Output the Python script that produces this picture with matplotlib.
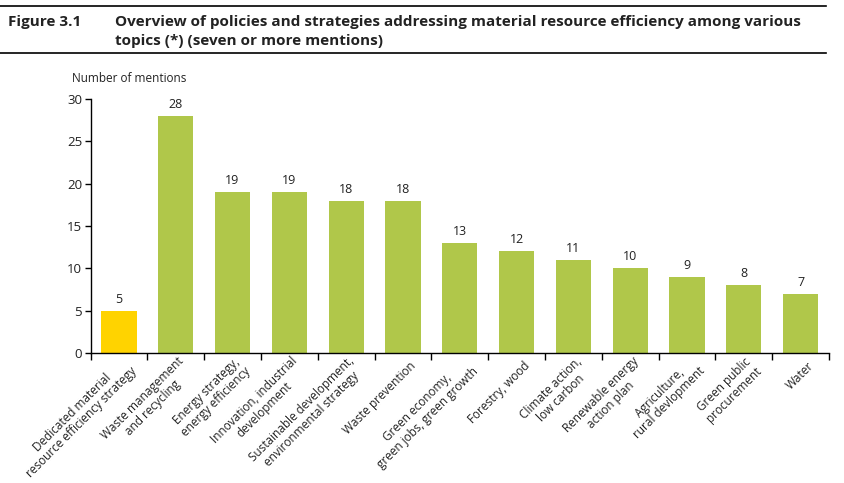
import matplotlib.pyplot as plt
import numpy as np

# Dati
categories = [
    "Dedicated material\nresource efficiency strategy",
    "Waste management\nand recycling",
    "Energy strategy,\nenergy efficiency",
    "Innovation, industrial\ndevelopment",
    "Sustainable development,\nenvironmental strategy",
    "Waste prevention",
    "Green economy,\ngreen jobs, green growth",
    "Forestry, wood",
    "Climate action,\nlow carbon",
    "Renewable energy\naction plan",
    "Agriculture,\nrural devlopment",
    "Green public\nprocurement",
    "Water",
]
mentions = [5, 28, 19, 19, 18, 18, 13, 12, 11, 10, 9, 8, 7]
y_ticks = [0, 5, 10, 15, 20, 25, 30]

YELLOW = "#FFD300"
GREEN = "#B0C74A"
TEXT = "#222222"

plt.rcParams["font.family"] = ["Open Sans", "DejaVu Sans"]

fig = plt.figure(figsize=(8.44, 4.83), dpi=100)
W, H = 844, 483

# Intestazione con le due linee orizzontali
fig.add_artist(plt.Line2D([0, 826 / W], [1 - 6 / H, 1 - 6 / H], color="black", lw=1.2))
fig.add_artist(plt.Line2D([0, 826 / W], [1 - 53 / H, 1 - 53 / H], color="black", lw=1.2))
fig.text(8 / W, 1 - 26 / H, "Figure 3.1", fontsize=11, fontweight="bold", color=TEXT, va="baseline")
fig.text(115 / W, 1 - 26 / H,
         "Overview of policies and strategies addressing material resource efficiency among various",
         fontsize=11, fontweight="bold", color=TEXT, va="baseline")
fig.text(115 / W, 1 - 45 / H, "topics (*) (seven or more mentions)",
         fontsize=11, fontweight="bold", color=TEXT, va="baseline")

ax = fig.add_axes([90.5 / W, 1 - 353 / H, 738.5 / W, 254 / H])

x = np.arange(len(categories))
colors = [YELLOW] + [GREEN] * (len(categories) - 1)
bars = ax.bar(x, mentions, width=0.62, color=colors, zorder=2)
for bar, val in zip(bars, mentions):
    ax.text(bar.get_x() + bar.get_width() / 2, val + 0.6, str(val),
            ha="center", va="bottom", fontsize=9, color=TEXT)

ax.set_xlim(-0.5, len(categories) - 0.5)
ax.set_ylim(0, 30)
ax.set_yticks(y_ticks)
ax.tick_params(axis="y", labelsize=9.5, labelcolor=TEXT, length=4, width=1, pad=2)

# tick tra le barre, etichette ruotate al centro
ax.set_xticks(np.arange(len(categories) + 1) - 0.5)
ax.set_xticklabels([])
ax.tick_params(axis="x", length=5, width=1)
for i, lab in enumerate(categories):
    ax.annotate(lab, xy=(i, 0), xycoords=("data", "axes fraction"),
                xytext=(8, -8), textcoords="offset points",
                rotation=45, rotation_mode="anchor", ha="right", va="center",
                multialignment="center", fontsize=8.5, color=TEXT, linespacing=1.1)

for s in ["top", "right"]:
    ax.spines[s].set_visible(False)
for s in ["left", "bottom"]:
    ax.spines[s].set_linewidth(1)

fig.text(72 / W, 1 - 79 / H, "Number of mentions", fontsize=8.5, color=TEXT, va="center")

fig.savefig("out.png", dpi=100)
